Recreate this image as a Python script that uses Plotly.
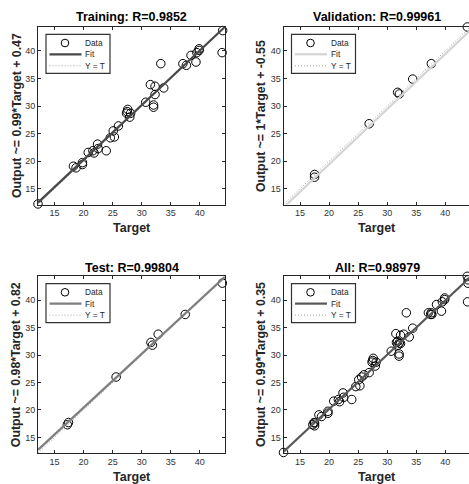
import plotly.graph_objects as go

# ---------------- data ----------------
train_target = [12.15, 18.25, 18.7, 19.8, 19.8, 20.8, 21.6, 21.8, 22.4, 22.5, 23.9, 24.6,
                25.3, 25.1, 26.0, 27.5, 27.6, 27.4, 27.95, 28.1, 30.7, 31.5, 32.05, 32.05,
                32.3, 32.3, 33.3, 33.8, 37.1, 37.7, 38.5, 39.35, 39.5, 39.9, 39.9, 43.85, 43.95]
train_output = [12.25, 19.1, 18.8, 19.75, 19.4, 21.6, 21.9, 21.5, 23.1, 22.3, 21.9, 24.25,
                24.4, 25.5, 26.4, 29.0, 29.4, 28.7, 28.0, 28.7, 30.7, 33.9, 30.2, 29.8,
                32.1, 33.6, 37.7, 33.3, 37.7, 37.4, 39.2, 38.0, 39.7, 40.4, 40.1, 39.7, 43.7]
val_target = [17.5, 17.5, 26.9, 31.8, 32.1, 34.4, 37.6, 43.8]
val_output = [17.6, 17.1, 26.8, 32.5, 32.2, 34.9, 37.7, 44.35]
test_target = [17.2, 17.4, 25.6, 31.6, 31.85, 32.85, 37.5, 43.9]
test_output = [17.3, 17.7, 26.0, 32.3, 31.8, 33.8, 37.4, 43.1]
all_target = train_target + val_target + test_target
all_output = train_output + val_output + test_output

panel_titles = ["Training: R=0.9852", "Validation: R=0.99961", "Test: R=0.99804", "All: R=0.98979"]
fit_slopes = [0.99, 1.0, 0.98, 0.99]
fit_intercepts = [0.47, -0.55, 0.82, 0.35]
y_labels = ["Output ~= 0.99*Target + 0.47", "Output ~= 1*Target + -0.55",
            "Output ~= 0.98*Target + 0.82", "Output ~= 0.99*Target + 0.35"]
x_label = "Target"
fit_colors = ["#484848", "#d4d4d4", "#7f7f7f", "#585858"]
tick_values = [15, 20, 25, 30, 35, 40]
legend_labels = ["Data", "Fit", "Y = T"]

targets = [train_target, val_target, test_target, all_target]
outputs = [train_output, val_output, test_output, all_output]

# ---------------- layout geometry ----------------
W, H = 469, 484
FONT = "Liberation Sans, Arial, Helvetica, sans-serif"
TXT = "#262626"
DOT = "1px,2px"
lo = min(all_target + all_output)
hi = max(all_target + all_output)

# plot boxes in pixels (left, top, right, bottom) ; right column is cut by the page edge
boxes = [(38, 27, 225, 204.5), (283.5, 27, 470.5, 204.5),
         (38, 276.3, 225, 453), (283.5, 276.3, 470.5, 453)]
title_y = [16.7, 16.7, 267.8, 267.8]
ytitle_x = [16.3, 260.3, 15.5, 260.3]


def px(x):
    return x / W


def py(y):
    return 1 - y / H


fig = go.Figure()
shapes = []
annotations = []

for i in range(4):
    n = "" if i == 0 else str(i + 1)
    xa, ya = "x" + n, "y" + n
    L, T, R, B = boxes[i]
    R_vis = min(R, W)
    x_hi = lo + (hi - lo) * (R_vis - L) / (R - L)

    a, b = fit_slopes[i], fit_intercepts[i]
    # Y = T dotted line
    fig.add_trace(go.Scatter(x=[lo, hi], y=[lo, hi], mode="lines", xaxis=xa, yaxis=ya,
                             line=dict(color="#a0a0a0", width=1, dash=DOT),
                             showlegend=False, hoverinfo="skip"))
    # data circles
    fig.add_trace(go.Scatter(x=targets[i], y=outputs[i], mode="markers", xaxis=xa, yaxis=ya,
                             marker=dict(symbol="circle-open", size=8.5, color="#000000",
                                         line=dict(width=1, color="#000000")),
                             cliponaxis=False, showlegend=False))
    # fit line
    fig.add_trace(go.Scatter(x=[lo, hi], y=[a * lo + b, a * hi + b], mode="lines",
                             xaxis=xa, yaxis=ya,
                             line=dict(color=fit_colors[i], width=2.2),
                             showlegend=False, hoverinfo="skip"))

    axis_common = dict(showgrid=False, zeroline=False, showline=True, linecolor=TXT,
                       linewidth=1, ticks="inside", ticklen=3, tickwidth=1, tickcolor=TXT,
                       tickvals=tick_values, tickfont=dict(family=FONT, size=9, color="#333333"))
    fig.update_layout(**{
        "xaxis" + n: dict(domain=[px(L), px(R_vis)], range=[lo, x_hi], anchor=ya,
                          mirror="ticks", **axis_common),
        "yaxis" + n: dict(domain=[py(B), py(T)], range=[lo, hi], anchor=xa,
                          mirror=("ticks" if R <= W else False), **axis_common),
    })

    cx = (L + R) / 2
    annotations.append(dict(text="<b>%s</b>" % panel_titles[i], x=px(cx), y=py(title_y[i]),
                            xref="paper", yref="paper", showarrow=False, xanchor="center",
                            yanchor="middle", font=dict(family=FONT, size=12.5, color="#000")))
    annotations.append(dict(text="<b>%s</b>" % x_label, x=px(cx), y=py(B + 23.5),
                            xref="paper", yref="paper", showarrow=False, xanchor="center",
                            yanchor="middle", font=dict(family=FONT, size=12.5, color=TXT)))
    annotations.append(dict(text="<b>%s</b>" % y_labels[i], x=px(ytitle_x[i]), y=py((T + B) / 2),
                            xref="paper", yref="paper", showarrow=False, textangle=-90,
                            xanchor="center", yanchor="middle",
                            font=dict(family=FONT, size=12.3, color=TXT)))

    # ---- legend box (drawn manually, MATLAB style) ----
    lx, ly = L + 8, T + 7.3
    lw, lh = 64, 39
    shapes.append(dict(type="rect", xref="paper", yref="paper", x0=px(lx), x1=px(lx + lw),
                       y0=py(ly + lh), y1=py(ly), fillcolor="white",
                       line=dict(color="#333333", width=1.2), layer="above"))
    rows = [ly + 8.7, ly + 20, ly + 31.5]
    shapes.append(dict(type="circle", xref="paper", yref="paper",
                       x0=px(lx + 19 - 3.8), x1=px(lx + 19 + 3.8),
                       y0=py(rows[0] + 3.8), y1=py(rows[0] - 3.8),
                       line=dict(color="#000", width=1), layer="above"))
    shapes.append(dict(type="line", xref="paper", yref="paper", x0=px(lx + 3.5), x1=px(lx + 35.5),
                       y0=py(rows[1]), y1=py(rows[1]),
                       line=dict(color=fit_colors[i], width=2.2), layer="above"))
    shapes.append(dict(type="line", xref="paper", yref="paper", x0=px(lx + 3.5), x1=px(lx + 35.5),
                       y0=py(rows[2]), y1=py(rows[2]),
                       line=dict(color="#a0a0a0", width=1, dash=DOT), layer="above"))
    for k, lab in enumerate(legend_labels):
        annotations.append(dict(text=lab, x=px(lx + 37), y=py(rows[k]), xref="paper",
                                yref="paper", showarrow=False, xanchor="left", yanchor="middle",
                                font=dict(family=FONT, size=8.3, color=TXT)))

fig.update_layout(width=W, height=H, autosize=False,
                  margin=dict(l=0, r=0, t=0, b=0, pad=0),
                  paper_bgcolor="white", plot_bgcolor="white",
                  showlegend=False, shapes=shapes, annotations=annotations,
                  font=dict(family=FONT, color=TXT), hovermode=False)

# remove the default 8px page margin so the figure sits at the window's top-left corner
fig.write_html("out.html", config={"displayModeBar": False, "staticPlot": True},
               post_script="document.body.style.margin='0px';")
